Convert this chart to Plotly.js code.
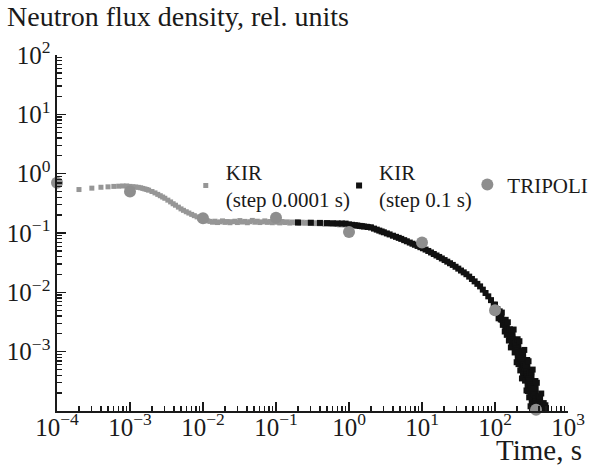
<!DOCTYPE html>
<html><head><meta charset="utf-8">
<script src="https://cdn.plot.ly/plotly-3.0.1.min.js"></script>
<style>html,body{margin:0;padding:0;background:#fff}</style>
</head><body><div id="chart" style="width:595px;height:470px"></div>
<script>
// ---- tick labels ----
const xTickVals = [1e-4, 1e-3, 1e-2, 1e-1, 1, 10, 100, 1000];
const xTickText = ['10<sup>−4</sup>','10<sup>−3</sup>','10<sup>−2</sup>','10<sup>−1</sup>','10<sup>0</sup>','10<sup>1</sup>','10<sup>2</sup>','10<sup>3</sup>'];
const yTickVals = [1e-3, 1e-2, 1e-1, 1, 10, 100];
const yTickText = ['10<sup>−3</sup>','10<sup>−2</sup>','10<sup>−1</sup>','10<sup>0</sup>','10<sup>1</sup>','10<sup>2</sup>'];

// ---- series names ----
const nameFine = 'KIR<br>(step 0.0001 s)';
const nameCoarse = 'KIR<br>(step 0.1 s)';
const nameTripoli = 'TRIPOLI';

// ---- KIR, step 0.0001 s (time, s ; flux, rel. units) ----
const kirFineT = [2e-4,3e-4,4e-4,5e-4,6e-4,7e-4,8e-4,9e-4,
  0.0010,0.0011,0.0012,0.0013,0.0014,0.0015,0.0016,0.0017,0.0018,0.0020,0.0022,0.0024,0.0026,0.0028,0.0030,
  0.0033,0.0036,0.0039,0.0042,0.0046,0.0050,0.0054,0.0059,0.0064,0.0070,0.0076,0.0083,0.0090,0.0098,
  0.0107,0.0116,0.0125,0.0135,0.0146,0.0158,0.0171,0.0185,0.0200,0.0216,0.0234,0.0253,0.0274,0.0296,
  0.0320,0.0346,0.0375,0.0405,0.0438,0.0474,0.0513,0.0555,0.0600,0.0650,0.0703,0.0760,0.0822,0.0890,
  0.0962,0.104,0.1126,0.1218,0.1318,0.1426,0.1543,0.167,0.1806,0.1954,0.2114,0.2288,0.2475,0.2678,
  0.2898,0.3135,0.3392,0.367,0.3971,0.4297,0.4649,0.503,0.5443,0.5889,0.6372,0.6894,0.7459,0.8071,
  0.8733,0.9449,1.022,1.106,1.197,1.295,1.401,1.516,1.64,1.775,1.92,2.0];
const kirFineV = [0.54,0.57,0.59,0.60,0.61,0.615,0.62,0.62,
  0.61,0.603,0.596,0.588,0.578,0.564,0.552,0.54,0.527,0.50,0.474,0.448,0.425,0.404,0.385,
  0.358,0.334,0.311,0.294,0.273,0.255,0.241,0.228,0.217,0.206,0.196,0.187,0.179,0.172,
  0.166,0.160,0.157,0.152,0.158,0.150,0.154,0.160,0.151,0.156,0.149,0.155,0.158,0.150,
  0.162,0.153,0.157,0.149,0.155,0.163,0.152,0.158,0.150,0.154,0.160,0.151,0.156,0.149,
  0.157,0.152,0.148,0.156,0.150,0.154,0.147,0.153,0.149,0.155,0.147,0.152,0.146,0.151,
  0.145,0.150,0.144,0.149,0.143,0.148,0.141,0.146,0.140,0.145,0.139,0.143,0.137,0.142,
  0.136,0.140,0.134,0.138,0.132,0.136,0.130,0.134,0.128,0.131,0.126,0.128];

// ---- KIR, step 0.1 s ----
const kirCoarseT = [0.2,0.3,0.4,0.5,0.6,0.7,0.8,0.9,1.0,1.1,1.2,1.3,1.4,1.5,1.6,1.8,2.0,
  2.2,2.4,2.6,2.8,3.0,3.3,3.6,4.0,4.4,4.8,5.2,5.7,6.2,6.8,7.4,8.0,8.7,9.5,10.3,11.2,12.2,13.3,
  14.5,15.8,17.2,18.7,20.4,22.2,24.2,26.4,28.8,31.4,34.2,37.3,40.6,44.3,48.3,52.6,57.3,62.5,
  68.1,74.2,80.9,88.2,96.1];
const kirCoarseV = [0.150,0.149,0.148,0.147,0.146,0.145,0.1445,0.144,0.1396,0.1374,0.1353,0.1335,0.1317,0.1302,0.1287,0.1262,0.1239,
  0.1186,0.114,0.1098,0.1061,0.1028,0.0984,0.0946,0.090,0.0862,0.0828,0.0796,0.0758,0.0725,0.069,0.066,0.0633,0.0605,0.0577,0.0553,0.0526,0.0498,0.047,
  0.0443,0.0418,0.0395,0.0372,0.035,0.0329,0.0309,0.029,0.027,0.0251,0.0233,0.0217,0.0202,0.0184,0.0168,0.0153,0.0139,0.0126,
  0.0111,0.00975,0.00856,0.00739,0.00617];
// noisy tail of the same calculation
const kirTailT = [100,102,104,106,108,110,112,114,116,118,120,122,124,126,128,130,132,134,136,138,140,142.5,145,147.5,
  150,152.5,155,157.5,160,162.5,165,167.5,170,172.5,175,177.5,180,183,186,189,192,195,198,201,
  204,207,210,213,216,219,222,225,228,231,234,237,240,243,246,249,252,255,258,261,264,267,270,273,
  276,279,282,285,288,291,294,297,300,303.5,307,310.5,314,317.5,321,324.5,328,331.5,335,338.5,342,346,
  350,354,358,362,366,370,374,378,382,386,390,395,400,405,410,415,420,425,430,435,440,445,450,457,
  465,472,480,490,500,510,520,545];
const kirTailV = [6.22e-3,5.31e-3,4.52e-3,4.93e-3,5.19e-3,4.59e-3,3.65e-3,4.27e-3,4.78e-3,3.97e-3,3.49e-3,3.70e-3,
  4.56e-3,3.44e-3,2.83e-3,3.20e-3,3.37e-3,2.98e-3,2.19e-3,2.77e-3,3.44e-3,2.55e-3,1.92e-3,2.34e-3,
  3.13e-3,2.18e-3,1.54e-3,2.02e-3,2.38e-3,1.87e-3,1.18e-3,1.74e-3,2.29e-3,1.61e-3,1.29e-3,1.50e-3,
  2.36e-3,1.38e-3,9.70e-4,1.26e-3,1.42e-3,1.15e-3,6.64e-4,1.06e-3,
  1.62e-3,9.77e-4,6.17e-4,9.02e-4,1.50e-3,8.32e-4,4.83e-4,7.67e-4,1.02e-3,7.08e-4,3.54e-4,6.53e-4,
  1.00e-3,6.03e-4,4.42e-4,5.57e-4,1.07e-3,5.16e-4,3.25e-4,4.80e-4,5.74e-4,4.46e-4,2.22e-4,4.13e-4,
  7.24e-4,3.84e-4,2.17e-4,3.56e-4,6.90e-4,3.31e-4,1.70e-4,3.08e-4,4.43e-4,2.84e-4,1.20e-4,2.60e-4,
  4.48e-4,2.39e-4,1.63e-4,2.19e-4,4.99e-4,2.01e-4,1.11e-4,1.87e-4,2.38e-4,1.73e-4,
  7.26e-5,1.60e-4,3.20e-4,1.47e-4,7.41e-5,1.36e-4,2.99e-4,1.25e-4,5.75e-5,1.15e-4,1.75e-4,1.05e-4,
  3.98e-5,1.45e-4,1.76e-4,1.10e-4,5.89e-5,1.30e-4,1.97e-4,1.05e-4,4.17e-5,1.20e-4,8.81e-5,1.15e-4,
  1.36e-4,8.5e-5,9.12e-5,1.25e-4,1.12e-4,8.0e-5,7.94e-5,7.94e-5];

// ---- TRIPOLI ----
const tripoliT = [1e-4, 1e-3, 1e-2, 0.1, 1, 10, 100, 365];
const tripoliV = [0.70, 0.50, 0.178, 0.18, 0.104, 0.069, 0.005, 1.05e-4];

const FONT = 'Liberation Serif, Times New Roman, serif';
const INK = '#1a1a1a';
const GRAY = '#8e8e8e';

const traces = [
  {x: kirFineT, y: kirFineV, type: 'scatter', mode: 'markers', name: nameFine, legend: 'legend',
   marker: {symbol: 'square', size: 5, color: '#969696', line: {width: 0}}},
  {x: kirCoarseT, y: kirCoarseV, type: 'scatter', mode: 'markers', name: nameCoarse, legend: 'legend2',
   marker: {symbol: 'square', size: 6, color: '#111111', line: {width: 0}}},
  {x: kirTailT, y: kirTailV, type: 'scatter', mode: 'lines+markers', name: nameCoarse, showlegend: false,
   line: {color: '#111111', width: 3.5}, marker: {symbol: 'square', size: 6, color: '#111111'}},
  {x: tripoliT, y: tripoliV, type: 'scatter', mode: 'markers', name: nameTripoli, legend: 'legend3',
   cliponaxis: false, marker: {symbol: 'circle', size: 12, color: GRAY, line: {width: 0}}}
];

const axisCommon = {
  type: 'log', showgrid: false, zeroline: false, showline: true, linecolor: INK, linewidth: 1.6,
  ticks: 'inside', ticklen: 9, tickwidth: 1.5, tickcolor: INK, tickmode: 'array',
  tickfont: {family: FONT, size: 25, color: INK},
  minor: {ticks: 'inside', ticklen: 5, tickwidth: 1.3, tickcolor: INK, dtick: 'D1', showgrid: false}
};

const legendCommon = {orientation: 'v', bgcolor: 'rgba(0,0,0,0)', borderwidth: 0,
  font: {family: FONT, size: 21, color: INK}, valign: 'middle', xanchor: 'left', yanchor: 'middle',
  itemwidth: 30, tracegroupgap: 0};

const layout = {
  width: 595, height: 470,
  margin: {l: 57, r: 27, t: 55, b: 59, autoexpand: false},
  paper_bgcolor: '#fff', plot_bgcolor: '#fff',
  font: {family: FONT, color: INK},
  xaxis: Object.assign({}, axisCommon, {range: [-4, 3], tickvals: xTickVals, ticktext: xTickText,
    ticklabelposition: 'outside', ticklabelstandoff: -7}),
  yaxis: Object.assign({}, axisCommon, {range: [-4, 2], tickvals: yTickVals, ticktext: yTickText}),
  showlegend: true,
  legend: Object.assign({}, legendCommon, {x: 0.252, y: 0.633}),
  legend2: Object.assign({}, legendCommon, {x: 0.552, y: 0.633}),
  legend3: Object.assign({}, legendCommon, {x: 0.803, y: 0.635}),
  annotations: [
    {text: 'Time, s', xref: 'paper', yref: 'paper', x: 1.0313, y: -0.11,
     xanchor: 'right', yanchor: 'middle', showarrow: false, font: {family: FONT, size: 29, color: INK}},
    {text: 'Neutron flux density, rel. units', xref: 'paper', yref: 'paper', x: -0.102, y: 1.107,
     xanchor: 'left', yanchor: 'middle', showarrow: false, font: {family: FONT, size: 28, color: INK}}
  ]
};

Plotly.newPlot('chart', traces, layout, {staticPlot: true, displayModeBar: false});
</script></body></html>
